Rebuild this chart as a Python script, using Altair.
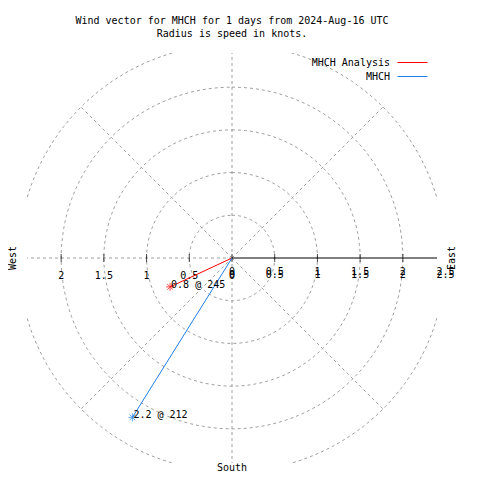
import altair as alt
import numpy as np
import pandas as pd

# ---- data ----
stations = ["MHCH Analysis", "MHCH"]
speeds = [0.8, 2.2]          # knots
directions = [245, 212]      # degrees
colors = ["#ff0000", "#1f80e8"]

grid_radii = [0.5, 1.0, 1.5, 2.0, 2.5]
spoke_angles = [0, 45, 135, 180, 225, 270, 315]
tick_values = [-2, -1.5, -1, -0.5, 0, 0.5, 1, 1.5, 2]
left_labels = [-2, -1.5, -1, -0.5, 0]
right_labels = [0, 0.5, 1, 1.5, 2, 2.5]
side_names = ["East", "West"]
side_angles = [90, 270]
side_radii = [2.57, 2.56]
bottom_name = ["South"]
bottom_radius = [2.46]
title_lines = ["Wind vector for MHCH for 1 days from 2024-Aug-16 UTC",
               "Radius is speed in knots."]

LIM = 2.4
FONT = "DejaVu Sans Mono"
GRID = "#a0a0a0"

# ---- tables ----
circ_rows = []
for r in grid_radii:
    for a in range(0, 361, 2):
        t = np.radians(a)
        circ_rows.append({"r": r, "ord": a, "x": r * np.sin(t), "y": r * np.cos(t)})
circles = pd.DataFrame(circ_rows)

rmax = max(grid_radii)
spokes = pd.DataFrame({
    "x": [0.0] * len(spoke_angles), "y": [0.0] * len(spoke_angles),
    "x2": [rmax * np.sin(np.radians(a)) for a in spoke_angles],
    "y2": [rmax * np.cos(np.radians(a)) for a in spoke_angles],
})
axis_df = pd.DataFrame({"x": [0.0], "y": [0.0], "x2": [max(right_labels)], "y2": [0.0]})
ticks = pd.DataFrame({"x": tick_values, "y": [0.0] * len(tick_values)})
left_df = pd.DataFrame({"x": left_labels, "y": [0.0] * len(left_labels),
                        "t": [f"{abs(v):g}" for v in left_labels]})
right_df = pd.DataFrame({"x": right_labels, "y": [0.0] * len(right_labels),
                         "t": [f"{v:g}" for v in right_labels]})
sides = pd.DataFrame({"name": side_names,
                      "x": [r * np.sin(np.radians(a)) for r, a in zip(side_radii, side_angles)],
                      "y": [0.0, 0.0]})
bottom = pd.DataFrame({"name": bottom_name, "x": [0.0], "y": [-r for r in bottom_radius]})

vec = pd.DataFrame({
    "station": stations,
    "x0": [0.0, 0.0], "y0": [0.0, 0.0],
    "x": [s * np.sin(np.radians(d)) for s, d in zip(speeds, directions)],
    "y": [s * np.cos(np.radians(d)) for s, d in zip(speeds, directions)],
    "label": [f"{s:g} @ {d}" for s, d in zip(speeds, directions)],
})

xs = alt.Scale(domain=[-LIM, LIM], nice=False, zero=False)
ys = alt.Scale(domain=[-LIM, LIM], nice=False, zero=False)
X = lambda f: alt.X(f, type="quantitative", scale=xs, axis=None)
Y = lambda f: alt.Y(f, type="quantitative", scale=ys, axis=None)
cscale = alt.Scale(domain=stations, range=colors)

grid_circles = alt.Chart(circles).mark_line(
    clip=True, color=GRID, strokeDash=[3, 3], strokeWidth=1
).encode(x=X("x"), y=Y("y"), detail="r:N", order="ord:Q")

grid_spokes = alt.Chart(spokes).mark_rule(
    clip=True, color=GRID, strokeDash=[3, 3], strokeWidth=1
).encode(x=X("x"), y=Y("y"), x2="x2:Q", y2="y2:Q")

east_axis = alt.Chart(axis_df).mark_rule(clip=True, color="black", strokeWidth=1).encode(
    x=X("x"), y=Y("y"), x2="x2:Q", y2="y2:Q")

tick_marks = alt.Chart(ticks).mark_tick(orient="vertical", size=8, thickness=1, color="black").encode(
    x=X("x"), y=Y("y"))

txt = dict(font=FONT, fontSize=10, color="black")
left_lab = alt.Chart(left_df).mark_text(dy=18, **txt).encode(x=X("x"), y=Y("y"), text="t:N")
right_lab1 = alt.Chart(right_df).mark_text(dy=14, **txt).encode(x=X("x"), y=Y("y"), text="t:N")
right_lab2 = alt.Chart(right_df).mark_text(dy=17, **txt).encode(x=X("x"), y=Y("y"), text="t:N")

side_lab = alt.Chart(sides).mark_text(angle=270, **txt).encode(x=X("x"), y=Y("y"), text="name:N")
bottom_lab = alt.Chart(bottom).mark_text(**txt).encode(x=X("x"), y=Y("y"), text="name:N")

# legend swatch: a line drawn to the right of the symbol anchor, so labels sit on its left
SWATCH = "M3,0L9,0"
vectors = alt.Chart(vec).mark_rule(strokeWidth=1).encode(
    x=X("x0"), y=Y("y0"), x2="x:Q", y2="y:Q",
    color=alt.Color("station:N", scale=cscale, sort=stations,
                    legend=alt.Legend(title=None, orient="none", legendX=350, legendY=4,
                                      symbolType=SWATCH, symbolSize=100, symbolStrokeWidth=1,
                                      labelAlign="right", labelOffset=2,
                                      labelFont=FONT, labelFontSize=10, labelColor="black",
                                      rowPadding=3, padding=0)),
)

ASTERISK = "M-1,0L1,0M0,-1L0,1M-0.7,-0.7L0.7,0.7M-0.7,0.7L0.7,-0.7"
markers = alt.Chart(vec).mark_point(shape=ASTERISK, size=64, filled=False, strokeWidth=1).encode(
    x=X("x"), y=Y("y"), stroke=alt.Stroke("station:N", scale=cscale, legend=None))

vec_labels = alt.Chart(vec).mark_text(align="left", baseline="middle", dx=1, dy=-2, **txt).encode(
    x=X("x"), y=Y("y"), text="label:N")

chart = alt.layer(
    grid_circles, grid_spokes, east_axis, tick_marks,
    left_lab, right_lab1, right_lab2, side_lab, bottom_lab,
    vectors, markers, vec_labels,
).properties(
    width=410, height=410,
    autosize=alt.AutoSizeParams(type="none"),
    padding={"left": 19, "top": 45, "right": 35, "bottom": 9},
    title=alt.TitleParams(title_lines, font=FONT, fontSize=10, fontWeight="normal",
                          anchor="middle", frame="group", offset=14, lineHeight=13, color="black"),
    background="white",
).configure_view(stroke=None)

chart.save("out.html", embed_options={"renderer": "svg", "actions": False})
